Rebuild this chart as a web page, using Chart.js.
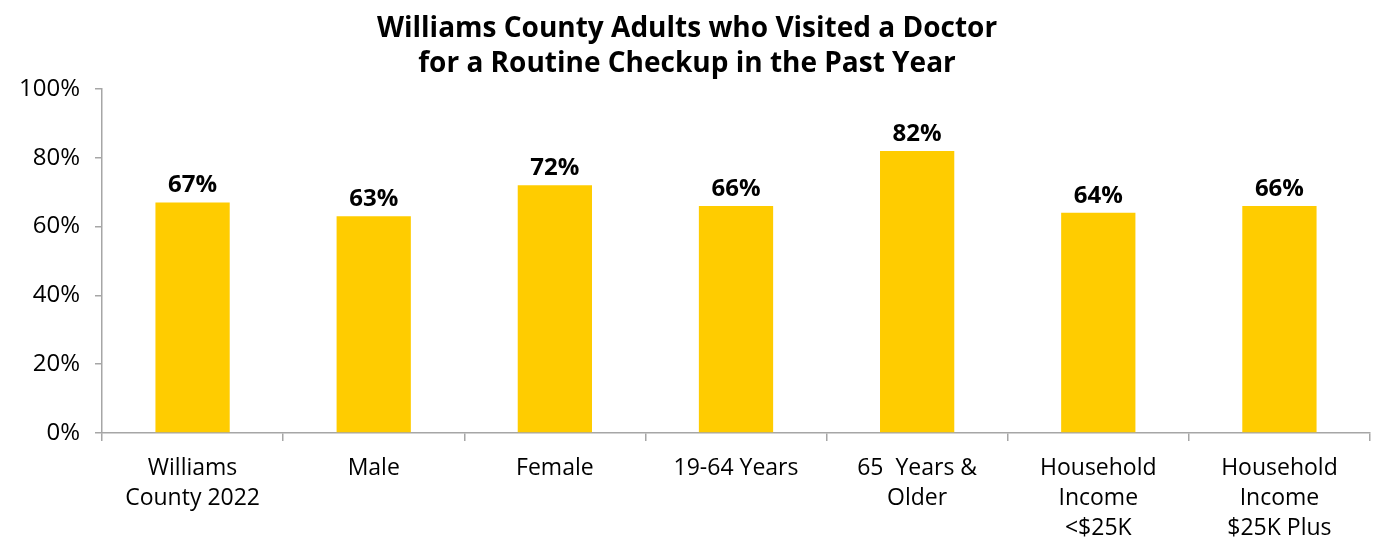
<!DOCTYPE html>
<html><head><meta charset="utf-8">
<script src="https://cdn.jsdelivr.net/npm/chart.js@4"></script>
<style>html,body{margin:0;padding:0;background:#fff}#w{width:1375px;height:543px}</style>
</head><body><div id="w"><canvas id="c"></canvas></div>
<script>
const categories = [["Williams","County 2022"],["Male"],["Female"],["19-64 Years"],["65  Years &","Older"],["Household","Income","<$25K"],["Household","Income","$25K Plus"]];
const values = [67, 63, 72, 66, 82, 64, 66];
const yTicks = [0, 20, 40, 60, 80, 100];
const titleLines = ["Williams County Adults who Visited a Doctor","for a Routine Checkup in the Past Year"];
const FONT = "'Open Sans', 'Noto Sans', sans-serif";

const labelPlugin = {
  id: 'vlabels',
  afterDatasetsDraw(chart) {
    const ctx = chart.ctx;
    const meta = chart.getDatasetMeta(0);
    ctx.save();
    ctx.font = "bold 24px " + FONT;
    ctx.fillStyle = '#000';
    ctx.textAlign = 'center';
    ctx.textBaseline = 'bottom';
    meta.data.forEach((bar, i) => {
      ctx.fillText(values[i] + '%', bar.x, bar.y - 5);
    });
    ctx.restore();
  }
};

new Chart(document.getElementById('c'), {
  type: 'bar',
  data: {
    labels: categories,
    datasets: [{ data: values, backgroundColor: '#FFCC00', categoryPercentage: 0.41, barPercentage: 1 }]
  },
  options: {
    responsive: true, maintainAspectRatio: false, animation: false,
    layout: { padding: { left: 4, right: 5, top: 12, bottom: 0 } },
    plugins: {
      legend: { display: false },
      tooltip: { enabled: false },
      title: { display: true, text: titleLines, color: '#000', font: { family: FONT, size: 28, weight: 'bold', lineHeight: 1.25 }, padding: { top: 0, bottom: 7 } }
    },
    scales: {
      x: {
        offset: true,
        afterFit: (s) => { s.height = 110; },
        grid: { offset: true, drawOnChartArea: false, drawTicks: true, tickLength: 8, color: '#a6a6a6', lineWidth: 1.5 },
        border: { color: '#a6a6a6', width: 1.5 },
        ticks: { color: '#000', font: { family: FONT, size: 23, lineHeight: 1.3 }, maxRotation: 0, autoSkip: false, padding: 13 }
      },
      y: {
        min: 0, max: 100,
        afterBuildTicks: (s) => { s.ticks = yTicks.map(v => ({ value: v })); },
        grid: { drawOnChartArea: false, drawTicks: true, tickLength: 7, color: '#a6a6a6', lineWidth: 1.5 },
        border: { color: '#a6a6a6', width: 1.5 },
        ticks: { color: '#000', font: { family: FONT, size: 24 }, padding: 15, callback: v => v + '%' }
      }
    }
  },
  plugins: [labelPlugin]
});
</script></body></html>
